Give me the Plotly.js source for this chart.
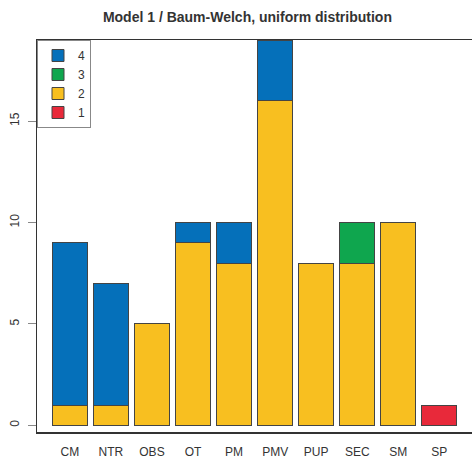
<!DOCTYPE html>
<html><head><meta charset="utf-8">
<script src="https://cdn.plot.ly/plotly-3.0.1.min.js"></script>
<style>html,body{margin:0;padding:0;overflow:hidden;background:#fff}#chart{overflow:hidden}</style>
</head><body>
<div id="chart" style="width:472px;height:459px"></div>
<script>
var categories = ["CM","NTR","OBS","OT","PM","PMV","PUP","SEC","SM","SP"];
var series1 = [0,0,0,0,0,0,0,0,0,1];
var series2 = [1,1,5,9,8,16,8,8,10,0];
var series3 = [0,0,0,0,0,0,0,2,0,0];
var series4 = [8,6,0,1,2,3,0,0,0,0];
var seriesNames = ["1","2","3","4"];
var seriesColors = ["#E8293A","#F8BF20","#0FA64E","#0570BA"];
var allSeries = [series1, series2, series3, series4];

var traces = allSeries.map(function(vals, i){
  return {
    type: "bar", x: categories, y: vals, name: seriesNames[i],
    marker: {color: seriesColors[i], line: {color: "#444", width: 1}},
    hoverinfo: "x+y+name"
  };
});

var layout = {
  width: 480, height: 459,
  margin: {l: 37, r: 0, t: 40, b: 27},
  barmode: "stack", bargap: 0.15,
  plot_bgcolor: "#fff", paper_bgcolor: "#fff",
  font: {family: "Liberation Sans, Arial, sans-serif", size: 12, color: "#333"},
  title: {text: "<b>Model 1 / Baum-Welch, uniform distribution</b>", x: 0.475, xref: "paper", xanchor: "center", y: 0.963, yanchor: "middle", font: {size: 14, color: "#333"}},
  xaxis: {type: "category", range: [-0.8, 9.99], showline: true, mirror: true, linecolor: "#333", linewidth: 1.5,
          ticks: "outside", ticklen: 8, tickcolor: "rgba(0,0,0,0)", showgrid: false, zeroline: false, fixedrange: true},
  yaxis: {range: [-0.33, 19.0], tickvals: [0,5,10,15], ticktext: ["0","5","10","15"], tickangle: -90,
          showline: true, linecolor: "#333", linewidth: 1.5, ticks: "outside", ticklen: 8, tickcolor: "#888",
          ticklabelstandoff: 4, showgrid: false, zeroline: false, fixedrange: true},
  showlegend: true,
  legend: {traceorder: "reversed", x: 0, y: 1, xanchor: "left", yanchor: "top", bordercolor: "#888", borderwidth: 1,
           bgcolor: "#fff", font: {size: 12, color: "#333"}, itemwidth: 30}
};
Plotly.newPlot("chart", traces, layout, {displayModeBar: false, staticPlot: true});
</script>
</body></html>
